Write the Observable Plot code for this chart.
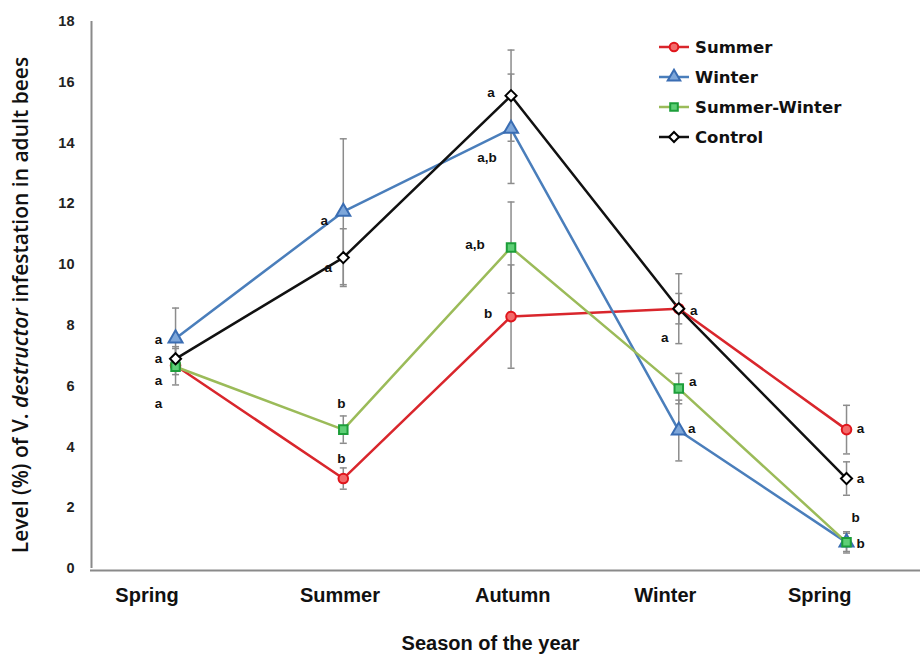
<!DOCTYPE html>
<html><head><meta charset="utf-8">
<script src="https://cdn.jsdelivr.net/npm/d3@7"></script>
<script src="https://cdn.jsdelivr.net/npm/@observablehq/plot@0.6"></script>
<style>
body{margin:0;background:#fff;}
#wrap{position:relative;width:920px;height:655px;}
#legend{position:absolute;left:657px;top:32px;font-family:"DejaVu Sans",sans-serif;font-weight:bold;font-size:16.5px;color:#111;}
#legend .row{display:flex;align-items:center;height:30px;}
#legend svg{margin-right:4px;}
</style></head><body><div id="wrap"><div id="legend"></div></div>
<script>
// ---- data ----
const seasons = ["Spring", "Summer", "Autumn", "Winter", "Spring"];
const seriesNames = ["Summer", "Winter", "Summer-Winter", "Control"];
const summerVals = [6.68, 2.96, 8.29, 8.55, 4.57];
const winterVals = [7.57, 11.74, 14.47, 4.54, 0.86];
const summerWinterVals = [6.64, 4.57, 10.56, 5.92, 0.86];
const controlVals = [6.90, 10.23, 15.56, 8.55, 2.96];
const summerErr = [0.30, 0.35, 1.70, 0.50, 0.80];
const winterErr = [1.00, 2.40, 1.80, 1.00, 0.30];
const summerWinterErr = [0.60, 0.45, 1.50, 0.50, 0.35];
const controlErr = [0.40, 0.95, 1.50, 1.15, 0.55];
const yTicks = [0, 2, 4, 6, 8, 10, 12, 14, 16, 18];
// significance letters
const letterSeason = [0,0,0,0, 1,1,1,1, 2,2,2,2, 3,3,3,3, 4,4,4,4];
const letterValue = [7.53,6.91,6.18,5.43, 11.45,9.9,5.43,3.62, 15.66,13.52,10.66,8.39, 8.49,7.6,6.15,4.6, 4.6,2.96,1.68,0.82];
const letterText = ["a","a","a","a", "a","a","b","b", "a","a,b","a,b","b", "a","a","a","a", "a","a","b","b"];
const letterDx = [-17,-17,-17,-17, -19,-15,-2,-2, -20,-24,-36,-23, 15,-14,14,13, 14,14,9,14];
// x-axis label anchor positions (category units)
const xLabelPos = [-0.17, 0.98, 2.01, 2.92, 3.84];

// ---- styles ----
const xDomain = [-0.507, 4.441];
const styles = [
  {name: seriesNames[0], vals: summerVals, err: summerErr, line: "#d9262c", stroke: "#e0161c", fill: "#f36a6a", symbol: "circle", r: 4.8},
  {name: seriesNames[1], vals: winterVals, err: winterErr, line: "#4a7ebb", stroke: "#3a6db3", fill: "#7ea7da", symbol: "triangle", r: 5.2},
  {name: seriesNames[2], vals: summerWinterVals, err: summerWinterErr, line: "#9bbb59", stroke: "#1d9e3a", fill: "#5fcf76", symbol: "square", r: 4.8},
  {name: seriesNames[3], vals: controlVals, err: controlErr, line: "#111111", stroke: "#000000", fill: "#ffffff", symbol: "diamond2", r: 5}
];
const capSymbol = {draw(ctx, size) { const w = Math.sqrt(size / Math.PI); ctx.moveTo(-w, 0); ctx.lineTo(w, 0); }};

const pts = styles.flatMap(s => s.vals.map((v, i) => ({name: s.name, i, v, e: s.err[i]})));
const caps = pts.flatMap(d => [{i: d.i, y: d.v - d.e}, {i: d.i, y: d.v + d.e}]);
const letters = letterText.map((t, k) => ({t, i: letterSeason[k], v: letterValue[k], dx: letterDx[k]}));

const marks = [
  Plot.ruleY([0], {stroke: "#8a8a8a", strokeWidth: 2, dy: 2}),
  Plot.ruleX([xDomain[0]], {stroke: "#8a8a8a", strokeWidth: 2, dx: 1}),
  Plot.axisY({ticks: yTicks, tickSize: 0, tickPadding: 16, fontSize: 14.5, fontWeight: "bold", fontFamily: "Liberation Sans, sans-serif", fill: "#222", label: null}),
  Plot.ruleX(pts, {x: "i", y1: d => d.v - d.e, y2: d => d.v + d.e, stroke: "#8c8c8c", strokeWidth: 1.5}),
  Plot.dot(caps, {x: "i", y: "y", symbol: capSymbol, r: 3.5, stroke: "#8c8c8c", strokeWidth: 1.5}),
];
for (const s of styles) {
  marks.push(Plot.line(s.vals, {x: (d, i) => i, y: d => d, stroke: s.line, strokeWidth: 2.5}));
}
for (const s of styles) {
  marks.push(Plot.dot(s.vals, {x: (d, i) => i, y: d => d, symbol: s.symbol, r: s.r, stroke: s.stroke, fill: s.fill, strokeWidth: 2}));
}
for (const L of letters) {
  marks.push(Plot.text([L], {x: "i", y: "v", text: "t", dx: L.dx, fontSize: 13.5, fontWeight: "bold", fontFamily: "Liberation Sans, sans-serif", fill: "#111"}));
}
marks.push(Plot.text(seasons, {x: (d, i) => xLabelPos[i], text: d => d, frameAnchor: "bottom", dy: 33, fontSize: 20, fontWeight: "bold", fontFamily: "Liberation Sans, sans-serif", fill: "#111"}));
marks.push(Plot.text(["Season of the year"], {frameAnchor: "bottom", dy: 81, dx: -15, fontSize: 20, fontWeight: "bold", fontFamily: "Liberation Sans, sans-serif", fill: "#111"}));

const chart = Plot.plot({
  width: 920, height: 655,
  marginLeft: 90, marginRight: 0, marginTop: 21, marginBottom: 87,
  x: {domain: xDomain, axis: null},
  y: {domain: [0, 18], axis: null},
  style: {background: "#fff"},
  marks
});

const svg = d3.select(chart);
const yl = svg.append("text")
  .attr("transform", "translate(28,305) rotate(-90)")
  .attr("text-anchor", "middle")
  .attr("font-family", "Open Sans, sans-serif")
  .attr("font-weight", 600)
  .attr("font-size", 21)
  .attr("fill", "#111");
yl.append("tspan").text("Level (%) of V. ");
yl.append("tspan").attr("font-style", "italic").text("destructor");
yl.append("tspan").text(" infestation in adult bees");

document.getElementById("wrap").prepend(chart);

// legend
const leg = d3.select("#legend");
for (const s of styles) {
  const row = leg.append("div").attr("class", "row");
  const g = row.append("svg").attr("width", 34).attr("height", 20);
  g.append("line").attr("x1", 2).attr("x2", 32).attr("y1", 10).attr("y2", 10).attr("stroke", s.line).attr("stroke-width", 2.5);
  const sym = {circle: d3.symbolCircle, triangle: d3.symbolTriangle, square: d3.symbolSquare, diamond2: d3.symbolDiamond2}[s.symbol];
  g.append("path").attr("transform", "translate(17,10)").attr("d", d3.symbol(sym, Math.PI * s.r * s.r * 0.8)())
    .attr("stroke", s.stroke).attr("fill", s.fill).attr("stroke-width", 2);
  row.append("span").text(s.name);
}
</script></body></html>
